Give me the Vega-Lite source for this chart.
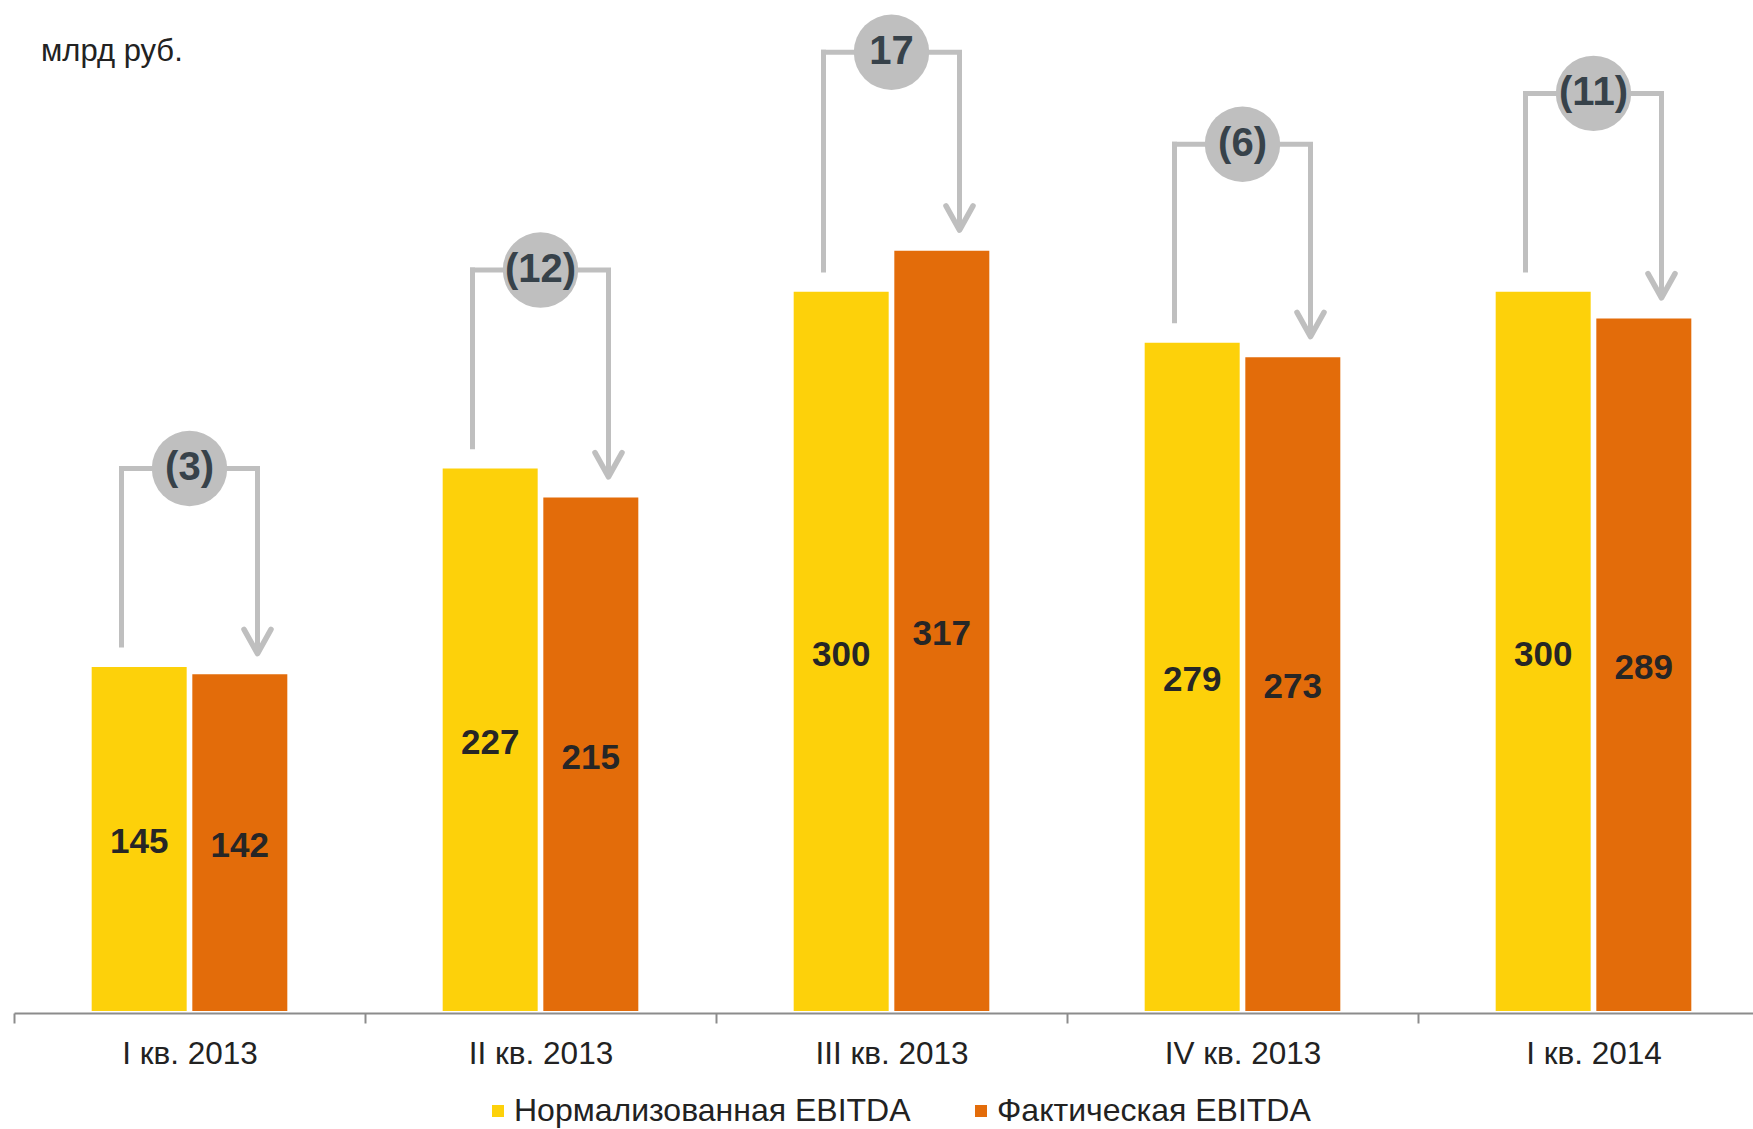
{
  "$schema": "https://vega.github.io/schema/vega-lite/v6.json",
  "width": 1739,
  "height": 1011,
  "autosize": {"type": "none"},
  "padding": {"left": 14, "top": 0, "right": 0, "bottom": 118},
  "background": "#ffffff",
  "config": {"font": "Liberation Sans", "view": {"stroke": null}},
  "title": {
    "text": "млрд руб.",
    "orient": "top",
    "anchor": "start",
    "frame": "group",
    "offset": -62,
    "dx": 27,
    "dy": 30,
    "baseline": "alphabetic",
    "fontSize": 31,
    "fontWeight": "normal",
    "color": "#222222"
  },
  "data": {
    "values": [
      {"q": "I кв. 2013", "series": "Нормализованная EBITDA", "value": 145},
      {"q": "I кв. 2013", "series": "Фактическая EBITDA", "value": 142},
      {"q": "II кв. 2013", "series": "Нормализованная EBITDA", "value": 227},
      {"q": "II кв. 2013", "series": "Фактическая EBITDA", "value": 215},
      {"q": "III кв. 2013", "series": "Нормализованная EBITDA", "value": 300},
      {"q": "III кв. 2013", "series": "Фактическая EBITDA", "value": 317},
      {"q": "IV кв. 2013", "series": "Нормализованная EBITDA", "value": 279},
      {"q": "IV кв. 2013", "series": "Фактическая EBITDA", "value": 273},
      {"q": "I кв. 2014", "series": "Нормализованная EBITDA", "value": 300},
      {"q": "I кв. 2014", "series": "Фактическая EBITDA", "value": 289}
    ]
  },
  "encoding": {
    "x": {
      "field": "q",
      "type": "nominal",
      "sort": null,
      "scale": {"range": [0, 1755], "paddingInner": 0, "paddingOuter": 0},
      "axis": {
        "title": null,
        "orient": "bottom",
        "offset": 2,
        "labelAngle": 0,
        "domainColor": "#8c8c8c",
        "domainWidth": 2,
        "tickColor": "#8c8c8c",
        "tickWidth": 2,
        "tickSize": 10,
        "tickBand": "extent",
        "labelFontSize": 31.5,
        "labelColor": "#222222",
        "labelPadding": 15,
        "labelLimit": 0
      }
    }
  },
  "layer": [
    {
      "mark": {"type": "bar"},
      "encoding": {
        "xOffset": {
          "field": "series",
          "type": "nominal",
          "sort": null,
          "scale": {"paddingInner": 0.056, "paddingOuter": 0.772}
        },
        "y": {
          "field": "value",
          "type": "quantitative",
          "scale": {"domain": [2.8, 420.6], "nice": false, "zero": false},
          "axis": null
        },
        "y2": {"datum": 2.8},
        "color": {
          "field": "series",
          "type": "nominal",
          "sort": null,
          "scale": {
            "domain": ["Нормализованная EBITDA", "Фактическая EBITDA"],
            "range": ["#FDD10A", "#E36C0A"]
          },
          "legend": {
            "orient": "none",
            "legendX": 468,
            "legendY": 1095,
            "direction": "horizontal",
            "title": null,
            "padding": 0,
            "symbolType": "square",
            "symbolSize": 144,
            "symbolStrokeWidth": 0,
            "labelFontSize": 32,
            "labelColor": "#222222",
            "labelOffset": 0,
            "labelLimit": 0,
            "columnPadding": 54
          }
        }
      }
    },
    {
      "transform": [{"calculate": "datum.value / 2", "as": "mid"}],
      "mark": {"type": "text", "fontSize": 35, "fontWeight": "bold", "color": "#262626", "baseline": "middle"},
      "encoding": {
        "xOffset": {
          "field": "series",
          "type": "nominal",
          "sort": null,
          "scale": {"paddingInner": 0.056, "paddingOuter": 0.772}
        },
        "y": {
          "field": "mid",
          "type": "quantitative",
          "scale": {"domain": [2.8, 420.6], "nice": false, "zero": false},
          "axis": null
        },
        "text": {"field": "value", "type": "quantitative"}
      }
    },
    {
      "transform": [
        {"pivot": "series", "value": "value", "groupby": ["q"]},
        {"calculate": "datum['Фактическая EBITDA'] - datum['Нормализованная EBITDA']", "as": "delta"},
        {"calculate": "max(datum['Нормализованная EBITDA'], datum['Фактическая EBITDA']) + 82", "as": "level"},
        {"calculate": "datum['Нормализованная EBITDA'] + 9", "as": "startY"},
        {"calculate": "datum['Фактическая EBITDA'] + 8.5", "as": "tipY"},
        {"calculate": "datum.delta < 0 ? '(' + (-datum.delta) + ')' : '' + datum.delta", "as": "deltaLabel"}
      ],
      "layer": [
        {
          "mark": {"type": "rule", "xOffset": -68, "stroke": "#bfbfbf", "strokeWidth": 5, "strokeCap": "square"},
          "encoding": {
            "y": {"field": "startY", "type": "quantitative", "scale": {"domain": [2.8, 420.6], "nice": false, "zero": false}, "axis": null},
            "y2": {"field": "level"}
          }
        },
        {
          "mark": {"type": "rule", "xOffset": 68, "stroke": "#bfbfbf", "strokeWidth": 5, "strokeCap": "butt"},
          "encoding": {
            "y": {"field": "level", "type": "quantitative", "scale": {"domain": [2.8, 420.6], "nice": false, "zero": false}, "axis": null},
            "y2": {"field": "tipY"}
          }
        },
        {
          "mark": {"type": "tick", "size": 141, "thickness": 5, "color": "#bfbfbf", "opacity": 1},
          "encoding": {
            "y": {"field": "level", "type": "quantitative", "scale": {"domain": [2.8, 420.6], "nice": false, "zero": false}, "axis": null}
          }
        },
        {
          "mark": {
            "type": "point",
            "shape": "M -1 -1.8 L 0 0 L 1 -1.8",
            "size": 729,
            "xOffset": 68,
            "filled": false,
            "stroke": "#bfbfbf",
            "strokeWidth": 5.5,
            "strokeJoin": "round",
            "strokeCap": "round",
            "opacity": 1
          },
          "encoding": {
            "y": {"field": "tipY", "type": "quantitative", "scale": {"domain": [2.8, 420.6], "nice": false, "zero": false}, "axis": null}
          }
        },
        {
          "mark": {"type": "point", "shape": "circle", "size": 5685, "filled": true, "fill": "#bfbfbf", "strokeWidth": 0, "opacity": 1},
          "encoding": {
            "y": {"field": "level", "type": "quantitative", "scale": {"domain": [2.8, 420.6], "nice": false, "zero": false}, "axis": null}
          }
        },
        {
          "mark": {"type": "text", "fontSize": 40, "fontWeight": "bold", "color": "#37424a", "baseline": "middle"},
          "encoding": {
            "y": {"field": "level", "type": "quantitative", "scale": {"domain": [2.8, 420.6], "nice": false, "zero": false}, "axis": null},
            "text": {"field": "deltaLabel", "type": "nominal"}
          }
        }
      ]
    }
  ]
}
